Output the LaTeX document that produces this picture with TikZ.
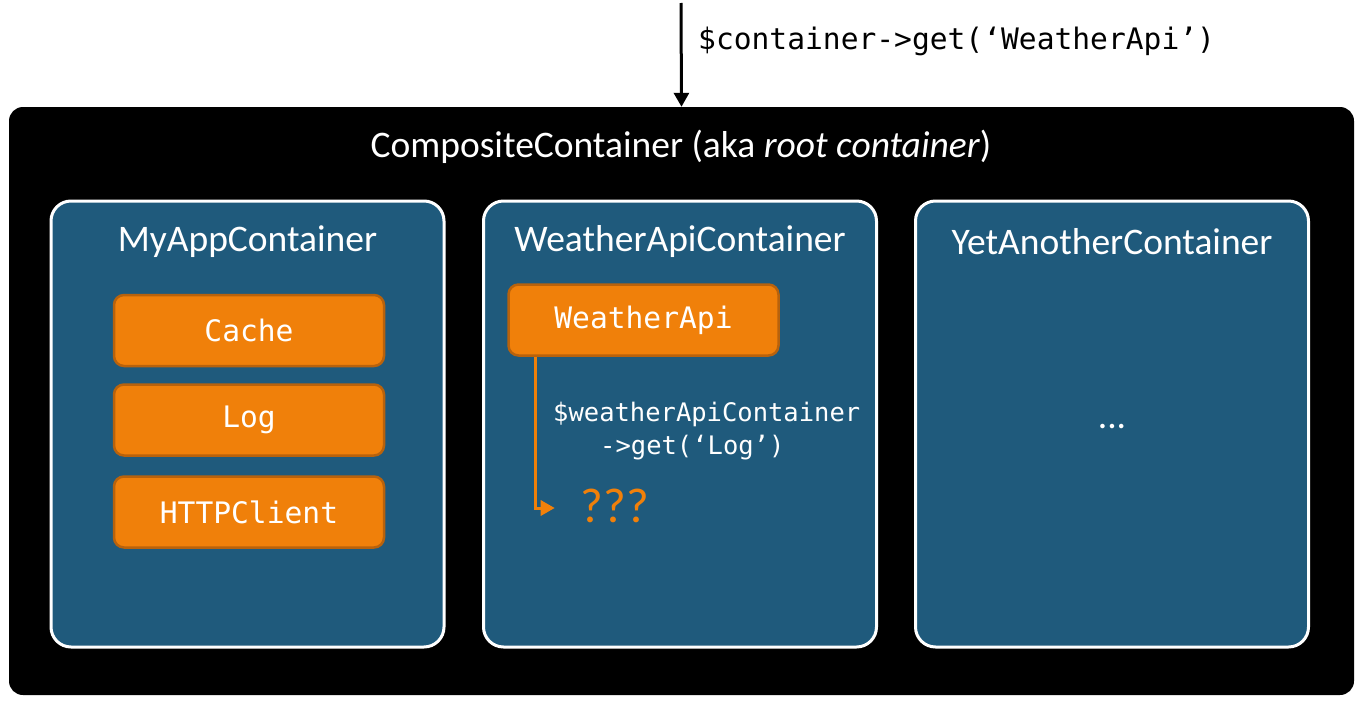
\documentclass[tikz,border=0pt]{standalone}
\usepackage{fontspec}
\setmainfont{Carlito}
\newfontfamily\codefont{DejaVu Sans Mono}
\usetikzlibrary{arrows.meta}
\definecolor{panelblue}{HTML}{1F5A7C}
\definecolor{svcorange}{HTML}{F0800A}
\definecolor{svcedge}{HTML}{B8620C}
\begin{document}
\begin{tikzpicture}[x=1pt,y=-1pt,
  rootbox/.style={fill=black, rounded corners=14pt, minimum width=1345pt, minimum height=588pt, inner sep=0pt},
  panel/.style={fill=panelblue, draw=white, line width=3pt, rounded corners=20pt, minimum width=393pt, minimum height=446pt, inner sep=0pt},
  paneltitle/.style={text=white, font=\fontsize{37.5}{42}\selectfont},
  svc/.style={fill=svcorange, draw=svcedge, line width=2.5pt, rounded corners=10pt, minimum width=270pt, minimum height=71pt, inner sep=0pt, text=white, font=\codefont\fontsize{29.6}{34}\selectfont},
  codelabel/.style={font=\codefont\fontsize{29.6}{34}\selectfont, anchor=west, inner sep=0pt},
  smallcode/.style={text=white, font=\codefont\fontsize{25.5}{31}\selectfont, inner sep=0pt, anchor=west}
]
\useasboundingbox (0,0) rectangle (1369,707);

% root container
\node[rootbox] (root) at (681.5,401) {};
\node[paneltitle] (roottitle) at (681,146.5) {CompositeContainer (aka \emph{root container})};

% incoming request
\coordinate (req) at (681,3);
\draw[line width=3pt, -{Triangle[length=14pt,width=15pt]}] (req) -- (root.north);
\node[codelabel] (reqlabel) at (698,41) {\$container->get(‘WeatherApi’)};

% child containers
\node[panel] (pa) at (247.5,424) {};
\node[panel] (pb) at (680,424) {};
\node[panel] (pc) at (1112,424) {};
\node[paneltitle] (ta) at (247.5,241.5) {MyAppContainer};
\node[paneltitle] (tb) at (680,241.5) {WeatherApiContainer};
\node[paneltitle] (tc) at (1112,241.5) {YetAnotherContainer};

% services of MyAppContainer
\node[svc] (cache) at (249,330.5) {Cache};
\node[svc] (log) at (249,420) {Log};
\node[svc] (http) at (249,512) {HTTPClient};

% WeatherApiContainer
\node[svc] (wapi) at (643.5,320) {WeatherApi};
\node[smallcode] (lookup1) at (553,414) {\$weatherApiContainer};
\node[smallcode] (lookup2) at (600,448) {->get(‘Log’)};
\node[text=svcorange, font=\fontsize{49}{54}\selectfont, inner sep=0pt] (unknown) at (615,506) {???};
\draw[svcorange, line width=3pt, -{Triangle[length=14pt,width=15pt]}]
  ([xshift=28pt]wapi.south west) |- ([xshift=-26pt,yshift=-2pt]unknown.west);

% YetAnotherContainer
\node[paneltitle] (dots) at (1112,427) {...};
\end{tikzpicture}
\end{document}
